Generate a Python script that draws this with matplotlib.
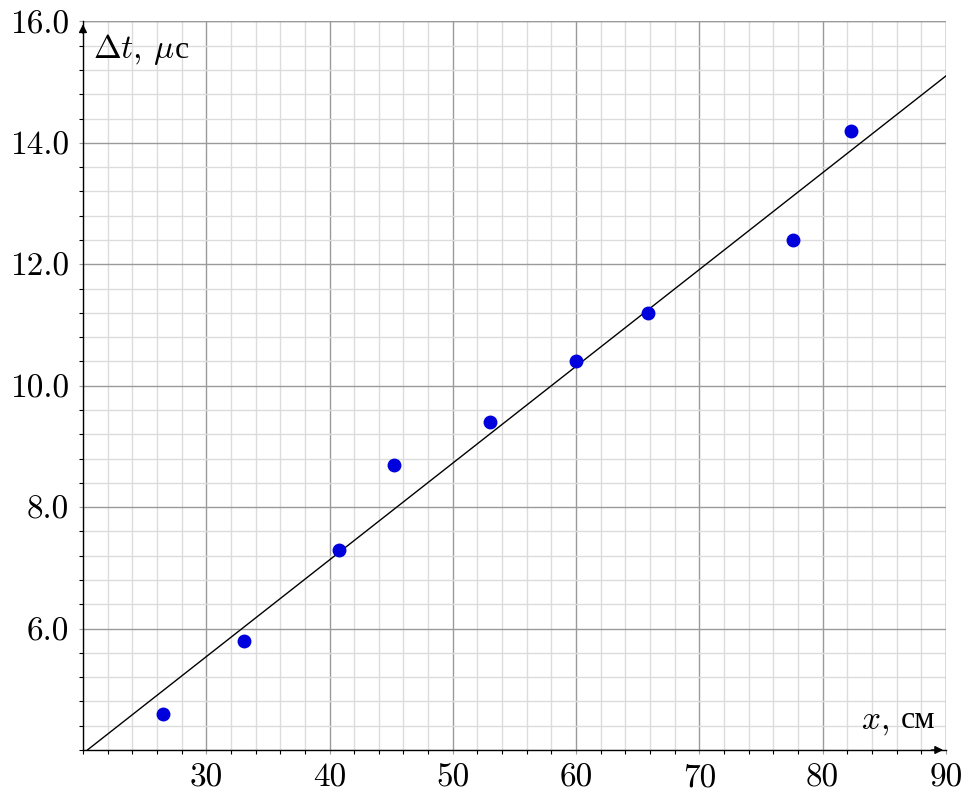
import matplotlib
matplotlib.use('Agg')
import matplotlib.pyplot as plt
from matplotlib.offsetbox import TextArea, HPacker, AnchoredOffsetbox
import numpy as np

# measured points: distance x (cm) and delay dt (us)
x_cm = [26.5, 33.1, 40.8, 45.2, 53.0, 60.0, 65.8, 77.6, 82.3]
dt_us = [4.6, 5.8, 7.3, 8.7, 9.4, 10.4, 11.2, 12.4, 14.2]

x_ticks = [30, 40, 50, 60, 70, 80, 90]
y_ticks = [6.0, 8.0, 10.0, 12.0, 14.0, 16.0]

plt.rcParams['font.family'] = ['cmr10', 'Liberation Serif', 'DejaVu Serif']
plt.rcParams['mathtext.fontset'] = 'cm'
plt.rcParams['axes.unicode_minus'] = False

FS = 24


def axis_label(ax, math_part, cyr_part, loc, anchor, sep):
    # mathtext cannot fall back to a Cyrillic font, so pack two texts side by side
    t1 = TextArea(math_part, textprops=dict(fontsize=FS))
    t2 = TextArea(cyr_part, textprops=dict(fontsize=FS - 1, family='Liberation Serif'))
    box = HPacker(children=[t1, t2], align='baseline', pad=0, sep=sep)
    anc = AnchoredOffsetbox(loc=loc, child=box, pad=0, borderpad=0, frameon=False,
                            bbox_to_anchor=anchor, bbox_transform=ax.transAxes)
    ax.add_artist(anc)


def main():
    fig = plt.figure(figsize=(9.68, 7.96), dpi=100)
    ax = fig.add_axes([0.0857, 0.0578, 0.8915, 0.9152])
    ax.set_xlim(20, 90)
    ax.set_ylim(4, 16)

    # grid
    ax.set_xticks(np.arange(20, 91, 2), minor=True)
    ax.set_yticks(np.arange(4, 16.01, 0.4), minor=True)
    ax.set_xticks(x_ticks)
    ax.set_yticks(y_ticks)
    ax.set_xticklabels([str(v) for v in x_ticks])
    ax.set_yticklabels(['%.1f' % v for v in y_ticks])
    ax.grid(True, which='minor', color='#dcdcdc', lw=1.0, zorder=0)
    ax.grid(True, which='major', color='#9a9a9a', lw=1.0, zorder=0)
    ax.set_axisbelow(True)
    ax.tick_params(which='both', direction='out', length=3, width=0.8, color='black',
                   labelsize=FS, pad=7)
    ax.tick_params(which='major', length=3, color='#9a9a9a')

    for s in ['top', 'right']:
        ax.spines[s].set_visible(False)
    for s in ['left', 'bottom']:
        ax.spines[s].set_linewidth(1.0)
        ax.spines[s].set_zorder(3)

    # right/top grid edges
    ax.axvline(90, color='#9a9a9a', lw=1.0, zorder=1)
    ax.axhline(16, color='#9a9a9a', lw=1.0, zorder=1)

    # arrow heads
    ax.annotate('', xy=(1.0, 0), xytext=(0.98, 0), xycoords='axes fraction',
                arrowprops=dict(arrowstyle='-|>', color='black', lw=1.0, mutation_scale=12),
                annotation_clip=False)
    ax.annotate('', xy=(0, 1.0), xytext=(0, 0.98), xycoords='axes fraction',
                arrowprops=dict(arrowstyle='-|>', color='black', lw=1.0, mutation_scale=12),
                annotation_clip=False)

    # linear fit
    k, b = np.polyfit(x_cm, dt_us, 1)
    xs = np.array([20, 90])
    ax.plot(xs, k * xs + b, color='black', lw=1.0, zorder=4)

    ax.plot(x_cm, dt_us, 'o', color='#0000dd', ms=9, zorder=5)

    axis_label(ax, r'$\Delta t$, $\mu$', 'с', 'upper left', (0.012, 0.985), 0)
    axis_label(ax, r'$x$,', 'см', 'lower right', (0.988, 0.018), 9)

    fig.savefig('out.png', dpi=100)


if __name__ == '__main__':
    main()
